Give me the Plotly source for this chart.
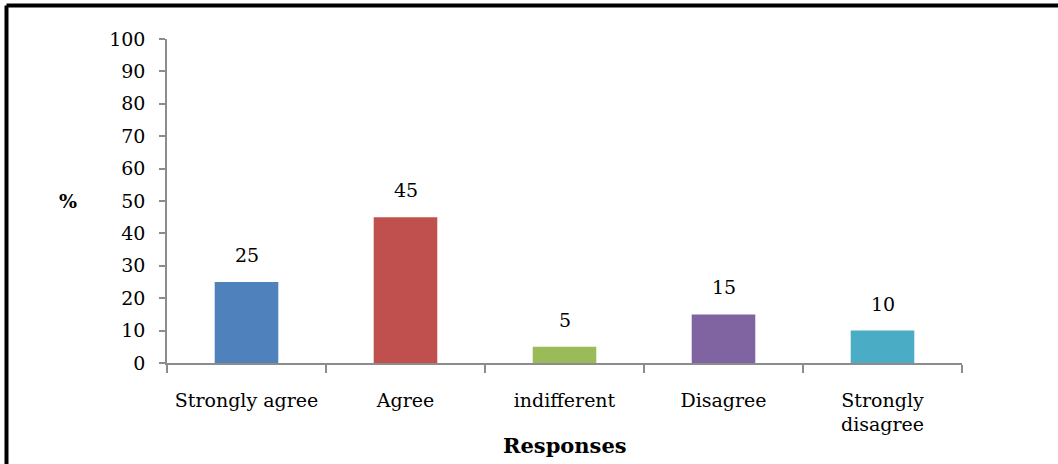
import plotly.graph_objects as go

categories = ["Strongly agree", "Agree", "indifferent", "Disagree", "Strongly<br>disagree"]
values = [25, 45, 5, 15, 10]
colors = ["#4F81BD", "#C0504D", "#9BBB59", "#8064A2", "#4BACC6"]
y_ticks = list(range(0, 101, 10))

FONT = "DejaVu Serif"

fig = go.Figure()
fig.add_trace(go.Bar(x=categories, y=values, marker=dict(color=colors, line=dict(width=0)),
                     showlegend=False, hoverinfo="skip"))

for c, v in zip(categories, values):
    fig.add_annotation(x=c, y=v, text=str(v), showarrow=False, yanchor="bottom", yshift=14,
                       font=dict(family=FONT, size=19, color="black"))

fig.add_annotation(xref="paper", yref="paper", x=-0.125, y=0.5, text="<b>%</b>", showarrow=False,
                   font=dict(family=FONT, size=19, color="black"), xanchor="center", yanchor="middle")
fig.add_annotation(xref="paper", yref="paper", x=0.5, y=-0.255, text="<b>Responses</b>", showarrow=False,
                   font=dict(family=FONT, size=21, color="black"), xanchor="center", yanchor="middle")

# frame
fig.add_shape(type="line", xref="paper", yref="paper", x0=-0.2019, x1=1.2, y0=1.1034, y1=1.1034,
              line=dict(color="black", width=4))
fig.add_shape(type="line", xref="paper", yref="paper", x0=-0.2019, x1=-0.2019, y0=1.1034, y1=-0.4,
              line=dict(color="black", width=4))

fig.update_layout(
    width=1058, height=464,
    margin=dict(l=167, r=96, t=39, b=101),
    paper_bgcolor="white", plot_bgcolor="white",
    bargap=0.6,
    font=dict(family=FONT, size=19, color="black"),
)
fig.update_xaxes(type="category", showline=True, linecolor="#8C8C8C", linewidth=1.5,
                 ticks="outside", tickson="boundaries", ticklen=8, tickcolor="#8C8C8C", tickwidth=1.5,
                 showgrid=False, tickfont=dict(family=FONT, size=19), ticklabelstandoff=19)
fig.update_yaxes(range=[0, 100], tickvals=y_ticks, showline=True, linecolor="#8C8C8C", linewidth=1.5,
                 ticks="outside", ticklen=6, tickcolor="#8C8C8C", tickwidth=1.5,
                 showgrid=False, zeroline=False, tickfont=dict(family=FONT, size=19), ticklabelstandoff=10)

fig.write_html("out.html")
